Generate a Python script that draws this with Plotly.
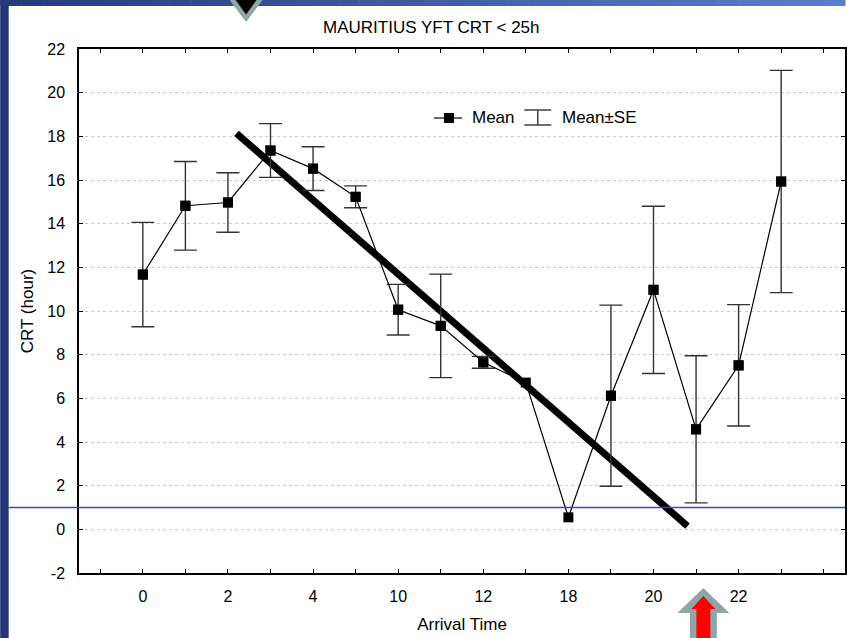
import plotly.graph_objects as go

# ---------------- data ----------------
categories = [0, 1, 2, 3, 4, 5, 10, 11, 12, 13, 18, 19, 20, 21, 22, 23]
mean_crt = [11.67, 14.82, 14.97, 17.35, 16.52, 15.23, 10.06, 9.32, 7.65, 6.72,
            0.55, 6.12, 10.97, 4.58, 7.51, 15.93]
se_crt = [2.39, 2.03, 1.36, 1.23, 1.00, 0.50, 1.16, 2.37, 0.27, None,
          None, 4.15, 3.83, 3.37, 2.78, 5.09]
tick_labels = [str(c) if i % 2 == 0 else "" for i, c in enumerate(categories)]
y_ticks = list(range(-2, 23, 2))
y_tick_labels = [str(v) for v in y_ticks]
trend_x = [2.20, 12.80]      # on the category-index scale
trend_y = [18.14, 0.15]
reference_y = 1.0

title_text = "MAURITIUS YFT CRT < 25h"
x_title = "Arrival Time"
y_title = "CRT (hour)"

# ---------------- geometry helpers (page pixels -> paper) ----------------
W, H = 847, 638
L, R, T, B = 79, 0, 49, 65
PW, PH = W - L - R, H - T - B


def px(x):
    return (x - L) / PW


def py(y):
    return (H - B - y) / PH


def poly(points):
    return "M " + " L ".join(f"{px(a):.5f},{py(b):.5f}" for a, b in points) + " Z"


FONT = "Liberation Sans, Arial, sans-serif"
pos = list(range(len(categories)))
err_idx = [i for i, s in enumerate(se_crt) if s is not None]

fig = go.Figure()

fig.add_trace(go.Scatter(
    x=trend_x, y=trend_y, mode="lines",
    line=dict(color="black", width=7),
    showlegend=False, hoverinfo="skip",
))

# Mean ± SE whiskers (only where an SE exists)
fig.add_trace(go.Scatter(
    x=[pos[i] for i in err_idx], y=[mean_crt[i] for i in err_idx],
    mode="markers", name="Mean±SE",
    marker=dict(symbol="square", size=10, color="black"),
    error_y=dict(type="data", array=[se_crt[i] for i in err_idx], symmetric=True,
                 color="#333333", thickness=1.4, width=11.5),
    showlegend=False, hoverinfo="skip",
))

# Mean line with markers
fig.add_trace(go.Scatter(
    x=pos, y=mean_crt, mode="lines+markers", name="Mean",
    line=dict(color="black", width=1.2),
    marker=dict(symbol="square", size=10, color="black"),
    showlegend=False,
))

shapes = []
# slide frame: left bar and top gradient bar
shapes.append(dict(type="rect", xref="paper", yref="paper",
                   x0=px(0), x1=px(8.5), y0=py(H + 2), y1=py(0),
                   fillcolor="#22377a", line_width=0, layer="above"))
N = 40
c0, c1 = (38, 58, 124), (92, 124, 206)
for i in range(N):
    t = i / (N - 1)
    col = tuple(round(c0[k] + (c1[k] - c0[k]) * t) for k in range(3))
    shapes.append(dict(type="rect", xref="paper", yref="paper",
                       x0=px(i * W / N), x1=px((i + 1) * W / N + 0.5),
                       y0=py(6), y1=py(0),
                       fillcolor="rgb(%d,%d,%d)" % col, line_width=0, layer="above"))
# top triangle marker
shapes.append(dict(type="path", xref="paper", yref="paper",
                   path=poly([(230, 0), (263, 0), (246.5, 22)]),
                   fillcolor="#8fa5a8", line_width=0, layer="above"))
shapes.append(dict(type="path", xref="paper", yref="paper",
                   path=poly([(236, 0), (257, 0), (246.5, 14.5)]),
                   fillcolor="black", line_width=0, layer="above"))
# bottom arrow
shapes.append(dict(type="path", xref="paper", yref="paper",
                   path=poly([(705, 588), (731, 613), (718.5, 613), (718.5, 640),
                              (691.5, 640), (691.5, 613), (679, 613)]),
                   fillcolor="#8fa5a8", line_width=0, layer="above"))
shapes.append(dict(type="path", xref="paper", yref="paper",
                   path=poly([(705, 596), (717, 609), (712, 609), (712, 640),
                              (698, 640), (698, 609), (693, 609)]),
                   fillcolor="#ff0000", line_width=0, layer="above"))
# blue horizontal reference line
shapes.append(dict(type="line", xref="paper", yref="y",
                   x0=px(8.5), x1=1.0, y0=reference_y, y1=reference_y,
                   line=dict(color="#2352c8", width=1.3), layer="above"))
# custom legend glyphs
shapes.append(dict(type="line", xref="paper", yref="paper",
                   x0=px(435), x1=px(463), y0=py(118), y1=py(118),
                   line=dict(color="black", width=1.2)))
shapes.append(dict(type="rect", xref="paper", yref="paper",
                   x0=px(445), x1=px(455), y0=py(113), y1=py(123),
                   fillcolor="black", line_width=0))
for yy in (110, 125):
    shapes.append(dict(type="line", xref="paper", yref="paper",
                       x0=px(525.5), x1=px(552.5), y0=py(yy), y1=py(yy),
                       line=dict(color="#333333", width=1.4)))
shapes.append(dict(type="line", xref="paper", yref="paper",
                   x0=px(539), x1=px(539), y0=py(110), y1=py(125),
                   line=dict(color="#333333", width=1.4)))

annotations = [
    dict(text=title_text, xref="paper", yref="paper", x=px(432.5), y=py(28),
         xanchor="center", yanchor="middle", showarrow=False,
         font=dict(family=FONT, size=17, color="black")),
    dict(text="Mean", xref="paper", yref="paper", x=px(471), y=py(118),
         xanchor="left", yanchor="middle", showarrow=False,
         font=dict(family=FONT, size=17, color="black")),
    dict(text="Mean±SE", xref="paper", yref="paper", x=px(561), y=py(118),
         xanchor="left", yanchor="middle", showarrow=False,
         font=dict(family=FONT, size=17, color="black")),
]

fig.update_layout(
    width=W, height=H, autosize=False,
    margin=dict(l=L, r=R, t=T, b=B, pad=0),
    paper_bgcolor="white", plot_bgcolor="white",
    font=dict(family=FONT, size=16, color="black"),
    shapes=shapes, annotations=annotations,
    showlegend=False,
)

fig.update_xaxes(
    range=[-1.5, 16.5],
    tickmode="array", tickvals=list(range(-1, len(categories) + 1)),
    ticktext=[""] + tick_labels + [""],
    ticks="inside", ticklen=4, tickwidth=1, tickcolor="black",
    showline=True, linecolor="black", linewidth=1.5, mirror="ticks",
    showgrid=False, zeroline=False,
    ticklabelstandoff=8,
    tickfont=dict(family=FONT, size=16, color="black"),
    title=dict(text=x_title, standoff=14, font=dict(family=FONT, size=17, color="black")),
)

fig.update_yaxes(
    range=[-2, 22],
    tickmode="array", tickvals=y_ticks, ticktext=y_tick_labels,
    ticks="inside", ticklen=4, tickwidth=1, tickcolor="black",
    showline=True, linecolor="black", linewidth=1.5, mirror="ticks",
    showgrid=True, gridcolor="#cccccc", griddash="dot", gridwidth=1,
    zeroline=False,
    ticklabelstandoff=9,
    tickfont=dict(family=FONT, size=16, color="black"),
    title=dict(text=y_title, standoff=9, font=dict(family=FONT, size=17, color="black")),
)

fig.write_html(
    "out.html",
    config={"displayModeBar": False},
    post_script="document.body.style.margin='0px';document.body.style.overflow='hidden';",
)
